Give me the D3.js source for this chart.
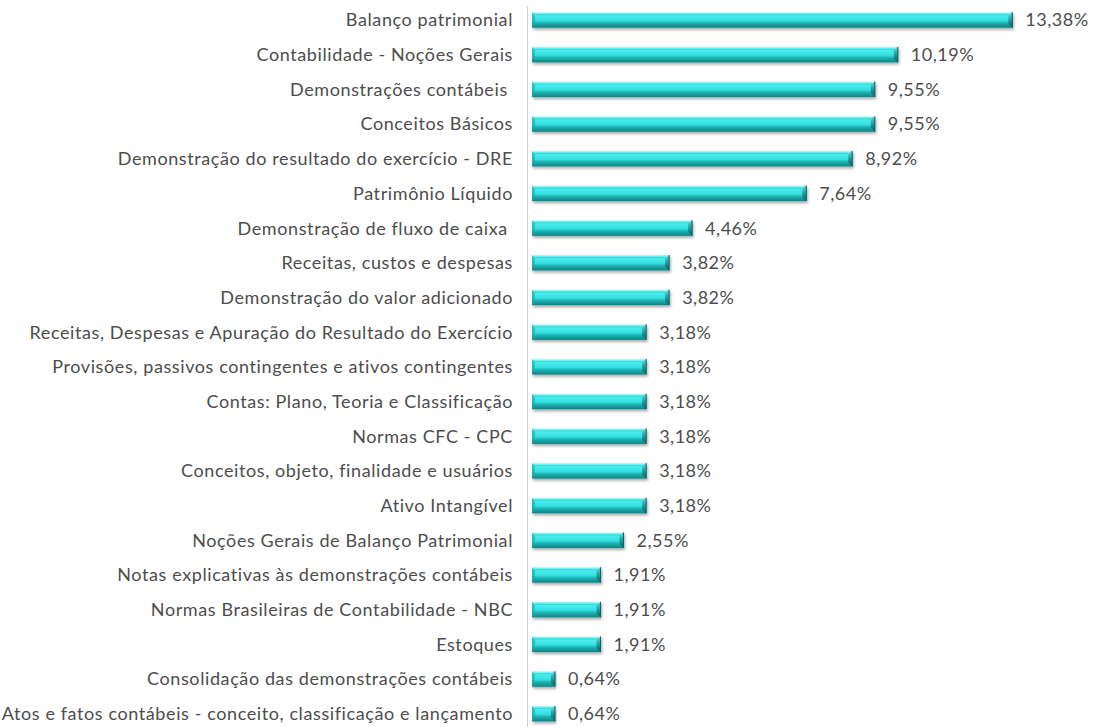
<!DOCTYPE html>
<html><head><meta charset="utf-8">
<script src="https://cdn.jsdelivr.net/npm/d3@7"></script>
<style>
html,body{margin:0;padding:0;background:#fff;}
text{font-family:"Lato",sans-serif;}
</style></head>
<body>
<svg id="chart" width="1094" height="727"></svg>
<script>
const categories = [
  "Balanço patrimonial",
  "Contabilidade - Noções Gerais",
  "Demonstrações contábeis ",
  "Conceitos Básicos",
  "Demonstração do resultado do exercício - DRE",
  "Patrimônio Líquido",
  "Demonstração de fluxo de caixa ",
  "Receitas, custos e despesas",
  "Demonstração do valor adicionado",
  "Receitas, Despesas e Apuração do Resultado do Exercício",
  "Provisões, passivos contingentes e ativos contingentes",
  "Contas: Plano, Teoria e Classificação",
  "Normas CFC - CPC",
  "Conceitos, objeto, finalidade e usuários",
  "Ativo Intangível",
  "Noções Gerais de Balanço Patrimonial",
  "Notas explicativas às demonstrações contábeis",
  "Normas Brasileiras de Contabilidade - NBC",
  "Estoques",
  "Consolidação das demonstrações contábeis",
  "Atos e fatos contábeis - conceito, classificação e lançamento"
];
const values = [13.38,10.19,9.55,9.55,8.92,7.64,4.46,3.82,3.82,3.18,3.18,3.18,3.18,3.18,3.18,2.55,1.91,1.91,1.91,0.64,0.64];
const valueLabels = ["13,38%","10,19%","9,55%","9,55%","8,92%","7,64%","4,46%","3,82%","3,82%","3,18%","3,18%","3,18%","3,18%","3,18%","3,18%","2,55%","1,91%","1,91%","1,91%","0,64%","0,64%"];

const svg = d3.select("#chart");
const x = d3.scaleLinear().domain([0, 14]).range([532, 532 + 14*35.9]);
const y = d3.scaleBand().domain(categories).range([2.6, 731]).paddingInner(0);

const defs = svg.append("defs");
const g1 = defs.append("linearGradient").attr("id","barGrad").attr("x1",0).attr("y1",0).attr("x2",0).attr("y2",1);
[[0,"#b0ffff"],[0.12,"#52f2f2"],[0.55,"#34dede"],[0.66,"#22baba"],[1,"#127f80"]].forEach(s=>g1.append("stop").attr("offset",s[0]).attr("stop-color",s[1]));
const g2 = defs.append("linearGradient").attr("id","capGrad").attr("x1",0).attr("y1",0).attr("x2",0).attr("y2",1);
[[0,"#6fd6d6"],[0.5,"#1c9c9e"],[1,"#0b5f61"]].forEach(s=>g2.append("stop").attr("offset",s[0]).attr("stop-color",s[1]));
const f = defs.append("filter").attr("id","shadow").attr("x","-5%").attr("y","-50%").attr("width","110%").attr("height","220%");
f.append("feGaussianBlur").attr("in","SourceAlpha").attr("stdDeviation",1.6);
f.append("feOffset").attr("dx",1).attr("dy",2.2).attr("result","ob");
f.append("feComponentTransfer").append("feFuncA").attr("type","linear").attr("slope",0.35);
const m = f.append("feMerge"); m.append("feMergeNode"); m.append("feMergeNode").attr("in","SourceGraphic");

svg.append("line").attr("x1",527.5).attr("x2",527.5).attr("y1",6).attr("y2",727)
  .attr("stroke","#cfcfcf").attr("stroke-width",1);

const bh = 15.5;
const rows = svg.append("g").selectAll("g").data(categories).join("g")
  .attr("transform", d => `translate(0,${y(d) + y.bandwidth()/2})`);

rows.append("g").attr("filter","url(#shadow)").each(function(d,i){
  const gg = d3.select(this);
  const x0 = x(0), x1 = x(values[i]);
  gg.append("rect").attr("x",x0).attr("y",-bh/2).attr("width",Math.max(0,x1-x0)).attr("height",bh).attr("fill","url(#barGrad)");
  gg.append("path").attr("d",`M${x0},${-bh/2}L${x0+3},${-bh/2+3}L${x0+3},${bh/2-4}L${x0},${bh/2}Z`).attr("fill","#1aa9aa").attr("opacity",0.6);
  gg.append("path").attr("d",`M${x1},${-bh/2}L${x1-4},${-bh/2+3}L${x1-4},${bh/2-4}L${x1},${bh/2}Z`).attr("fill","url(#capGrad)");
  gg.append("line").attr("x1",x1).attr("x2",x1).attr("y1",-bh/2).attr("y2",bh/2).attr("stroke","#0d5e60").attr("stroke-width",1);
  gg.append("line").attr("x1",x0+3).attr("x2",x1-4).attr("y1",-bh/2+2.5).attr("y2",-bh/2+2.5).attr("stroke","#0e9fa0").attr("stroke-width",0.8).attr("opacity",0.4);
});

rows.append("text").attr("class","cat").attr("x",513).attr("y",0).attr("dy","0.36em").attr("text-anchor","end")
  .attr("font-size",18).attr("letter-spacing",0.6).attr("fill","#4d4d4d").style("white-space","pre").text(d=>d);

rows.append("text").attr("x",(d,i)=>x(values[i])+13).attr("y",0).attr("dy","0.36em")
  .attr("font-size",18).attr("letter-spacing",0.5).attr("fill","#4d4d4d").text((d,i)=>valueLabels[i]);
</script>
</body></html>
